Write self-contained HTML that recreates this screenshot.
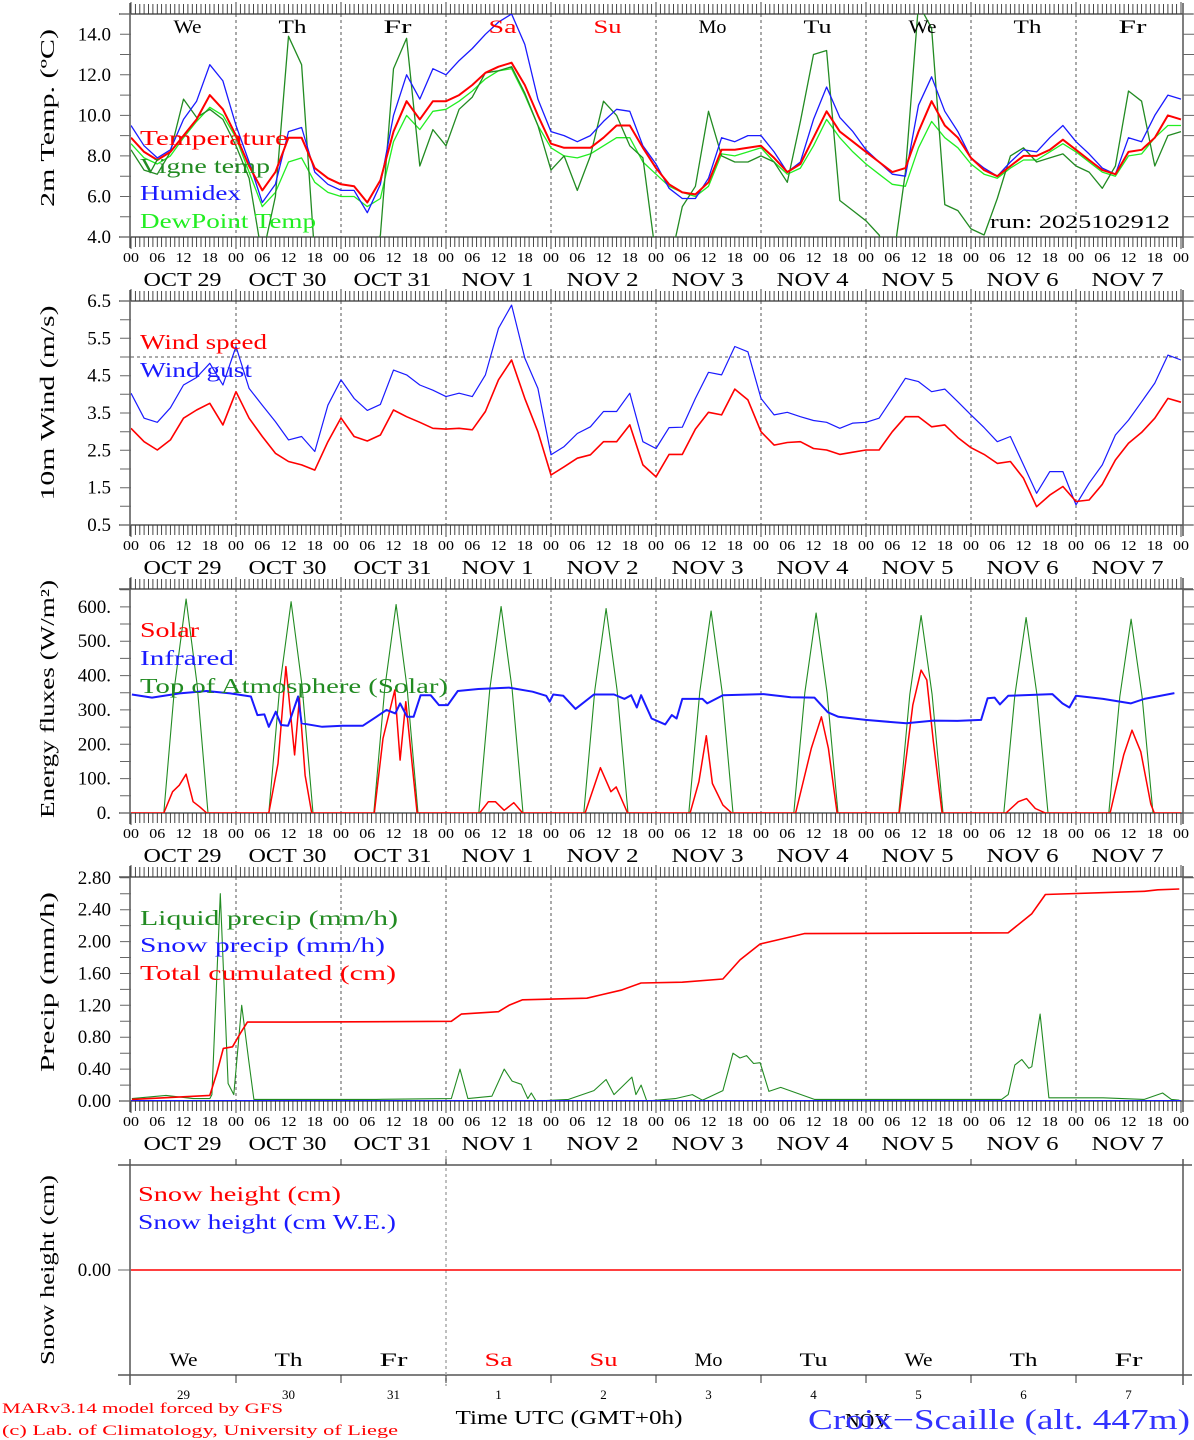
<!DOCTYPE html>
<html><head><meta charset="utf-8">
<style>
html,body{margin:0;padding:0;background:#fff;}
svg{display:block;font-family:"Liberation Serif","DejaVu Serif",serif;}
</style></head>
<body>
<svg id="chart" width="1194" height="1440" viewBox="0 0 1194 1440" xmlns="http://www.w3.org/2000/svg"></svg>
<script>
// ---------- DATA (3-hourly from Oct 29 00 UTC) ----------
const dayNames = ["We","Th","Fr","Sa","Su","Mo","Tu","We","Th","Fr"];
const dayColors = ["#000","#000","#000","#f00","#f00","#000","#000","#000","#000","#000"];
const dateLabels = ["OCT 29","OCT 30","OCT 31","NOV 1","NOV 2","NOV 3","NOV 4","NOV 5","NOV 6","NOV 7"];
const dayNumbers = ["29","30","31","1","2","3","4","5","6","7"];
const hourTickLabels = ["00","06","12","18"];

const tempVals = [8.9,8.2,7.8,8.2,9.0,9.8,11.0,10.3, 9.0,7.5,6.3,7.2,8.9,8.9,7.4,6.9, 6.6,6.5,5.7,6.8,9.2,10.7,9.8,10.7, 10.7,11.0,11.5,12.1,12.4,12.6,11.5,10.0, 8.6,8.4,8.4,8.4,8.9,9.5,9.5,8.4, 7.4,6.6,6.2,6.1,6.7,8.3,8.3,8.4, 8.5,7.9,7.2,7.6,8.9,10.2,9.2,8.7, 8.2,7.7,7.2,7.4,9.2,10.7,9.5,8.9, 7.9,7.3,7.0,7.5,8.0,8.0,8.3,8.8, 8.3,7.8,7.3,7.1,8.2,8.3,8.9,10.0,9.8];
const vigneVals = [8.3,7.3,7.1,8.2,10.8,9.9,10.3,9.8, 8.5,6.9,3.0,6.0,13.9,12.5,3.0,2.0, 2.0,2.0,2.0,4.1,12.3,13.8,7.5,9.3, 8.5,10.3,10.9,12.1,12.2,12.4,11.1,9.5, 7.3,8.0,6.3,8.0,10.7,10.0,8.5,7.9, 3.0,2.5,5.5,6.5,10.2,8.0,7.7,7.7, 8.0,7.7,6.7,9.7,13.0,13.2,5.8,5.3, 4.8,4.1,2.5,7.2,15.5,14.3,5.6,5.3, 4.4,4.1,5.9,8.0,8.4,7.7,7.9,8.1, 7.5,7.2,6.4,7.5,11.2,10.7,7.5,9.0,9.2];
const humidexVals = [9.5,8.5,7.9,8.3,9.8,10.7,12.5,11.7, 9.5,7.7,5.7,6.6,9.2,9.4,7.2,6.6, 6.3,6.3,5.2,6.6,10.0,12.0,10.8,12.3, 12.0,12.7,13.3,14.0,14.6,15.0,13.5,10.8, 9.2,9.0,8.7,9.0,9.7,10.3,10.2,8.5, 7.6,6.4,5.9,5.9,6.9,8.9,8.7,9.0, 9.0,8.2,7.2,7.7,9.8,11.4,9.9,9.2, 8.3,7.7,7.1,7.0,10.5,11.9,10.2,9.2, 7.9,7.4,7.0,7.7,8.3,8.2,8.9,9.5, 8.7,8.1,7.4,7.1,8.9,8.7,10.0,11.0,10.8];
const dewVals = [8.6,7.9,7.6,8.0,8.9,9.7,10.4,10.0, 8.9,7.2,5.5,6.2,7.7,7.9,6.7,6.2, 6.0,6.0,5.5,5.9,8.7,10.0,9.3,10.2, 10.3,10.7,11.2,11.8,12.2,12.3,11.0,9.5, 8.4,8.0,7.9,8.1,8.5,8.9,8.9,7.7, 7.1,6.5,6.2,6.0,6.5,8.1,8.0,8.2, 8.4,7.7,7.1,7.4,8.5,9.8,8.9,8.2, 7.6,7.1,6.6,6.5,8.4,9.7,8.9,8.4, 7.6,7.1,6.9,7.4,7.8,7.8,8.2,8.6, 8.2,7.7,7.2,7.0,8.0,8.1,8.9,9.5,9.5];

const windSpeedVals = [3.09,2.73,2.51,2.78,3.36,3.58,3.76,3.18, 4.07,3.36,2.87,2.42,2.20,2.11,1.97,2.73, 3.37,2.87,2.75,2.91,3.58,3.40,3.25,3.09, 3.07,3.09,3.05,3.54,4.39,4.92,3.89,3.00, 1.84,2.06,2.29,2.38,2.73,2.73,3.18,2.11, 1.79,2.39,2.39,3.07,3.52,3.45,4.14,3.85, 3.00,2.64,2.71,2.73,2.55,2.51,2.39,2.45, 2.51,2.51,3.00,3.40,3.40,3.13,3.18,2.84, 2.57,2.39,2.15,2.20,1.75,0.99,1.30,1.53, 1.13,1.17,1.59,2.24,2.69,2.98,3.36,3.89,3.79];
const windGustVals = [4.03,3.36,3.25,3.64,4.25,4.45,4.83,4.25, 5.28,4.16,3.71,3.27,2.78,2.87,2.47,3.71, 4.39,3.89,3.57,3.73,4.65,4.52,4.25,4.11, 3.94,4.03,3.94,4.52,5.77,6.39,4.97,4.16, 2.38,2.60,2.95,3.13,3.54,3.54,4.03,2.73, 2.55,3.11,3.12,3.89,4.59,4.52,5.28,5.14, 3.89,3.45,3.52,3.40,3.30,3.25,3.09,3.23, 3.25,3.36,3.89,4.43,4.34,4.07,4.14,3.80, 3.45,3.11,2.73,2.87,2.11,1.35,1.93,1.93, 1.04,1.62,2.11,2.91,3.31,3.80,4.30,5.05,4.92];

// energy fluxes: hours since Oct 29 00 and values (W/m2)
const toaPeaks = [623,615,607,601,595,588,582,575,569,564];
const solarHours = [0,7.5,9.5,11.05,12.6,14.2,15.7,17.3, 31.5,33.6,35.4,37.4,38.5,39.8,41.3, 55.6,57.6,60.3,61.5,62.8,65.4, 79.7,81.7,83.3,85.3,87.5,89.5, 103.8,107.3,109.7,110.9,113.5, 127.8,129.8,131.5,132.9,135.3,137.3, 151.9,155.5,157.8,159.4,161.4, 175.6,178.7,180.6,181.9,183.4,185.4, 200.0,202.8,204.7,206.7,209.0, 223.8,226.9,228.8,230.8,233.1,233.9,240];
const solarVals = [0,0,62,81,113,33,18,0, 0,144,426,169,334,110,0, 0,217,358,154,324,0, 0,33,33,8,30,0, 0,132,62,76,0, 0,91,225,86,23,0, 0,188,280,188,0, 0,314,416,387,207,0, 0,33,42,13,0, 0,169,241,178,26,0,0];
const irHours = [0.2,4.8,11.1,17.3,22.7,27.4,28.9,30.5,31.5,33.1,34.3,35.9,38.2,39.0,43.7,48.3,53.0,56.1,58.4,60.4,61.5,63.1,64.6,66.2,68.5,70.4,72.4,74.7,79.4,86.4,91.8,94.9,95.7,96.5,98.8,101.6,105.8,110.4,112.8,114.3,115.6,116.6,119.0,122.1,123.6,124.7,126.0,130.6,131.7,135.3,144.6,150.8,156.2,159.3,161.7,167.9,177.2,183.4,188.9,194.3,195.8,197.4,198.6,200.5,210.6,212.9,214.5,216.0,222.2,228.5,231.6,238.5];
const irVals = [345,336,348,355,348,339,285,287,251,295,256,254,339,261,251,254,254,280,300,290,319,280,280,343,343,314,314,355,361,365,353,341,324,345,341,303,345,345,332,343,307,343,275,258,285,275,332,332,319,343,346,337,336,293,280,271,261,269,268,271,334,336,316,341,346,319,307,341,332,319,332,349];

// precipitation
const cumHours = [0.2,18.0,19.6,21.1,23.2,25.0,26.6,37.4,73.2,75.5,84.0,86.4,89.5,104.2,107.3,112.0,116.6,126.0,135.3,139.2,143.8,147.7,153.9,200.5,205.9,209.0,231.6,234.7,239.6];
const cumVals = [0.02,0.07,0.35,0.66,0.68,0.85,0.99,0.99,1.00,1.09,1.12,1.20,1.27,1.29,1.33,1.39,1.48,1.49,1.53,1.77,1.97,2.02,2.10,2.11,2.35,2.59,2.63,2.65,2.66];
const liqHours = [0.2,8.0,14.2,18.0,18.5,20.4,22.2,23.5,25.3,26.9,28.1,56.1,73.2,75.2,77.0,82.5,85.3,87.1,89.2,90.7,91.5,92.6,100,105.8,108.6,110.4,114.5,115.4,116.6,117.9,124.4,128.3,130.6,135.3,137.6,139.2,140.7,142.3,143.8,145.8,148.5,156.2,199.0,200.5,202.0,203.6,205.2,205.9,207.8,209.8,222.2,231.6,235.8,237.8,239.6];
const liqVals = [0.03,0.07,0.03,0.03,0.08,2.60,0.22,0.08,1.20,0.51,0.02,0.02,0.03,0.40,0.03,0.06,0.40,0.25,0.21,0.03,0.10,0.0,0.02,0.13,0.27,0.08,0.30,0.08,0.20,0.0,0.03,0.08,0.01,0.13,0.60,0.54,0.57,0.47,0.48,0.12,0.17,0.02,0.02,0.08,0.45,0.52,0.41,0.43,1.09,0.04,0.04,0.02,0.10,0.02,0.01];
const snowPrecipVals = [0,0];
const snowHeightVals = [0,0];

const p1Ticks = ["14.0","12.0","10.0","8.0","6.0","4.0"];
const p2Ticks = ["6.5","5.5","4.5","3.5","2.5","1.5","0.5"];
const p3Ticks = ["600.","500.","400.","300.","200.","100.","0."];
const p4Ticks = ["2.80","2.40","2.00","1.60","1.20","0.80","0.40","0.00"];

// ---------- DRAWING ----------
const svg = document.getElementById('chart');
const NS = 'http://www.w3.org/2000/svg';
const X0 = 131, X1 = 1181, HOURS = 240;
function xs(h){ return X0 + h*(X1-X0)/HOURS; }
function mk(tag, attrs, parent){
  const e = document.createElementNS(NS, tag);
  for (const k in attrs) e.setAttribute(k, attrs[k]);
  (parent||svg).appendChild(e);
  return e;
}
function txt(str, x, y, size, color, anchor, len, parent){
  const t = mk('text', {x:x, y:y, 'font-size':size, fill:color, 'text-anchor':anchor||'start'}, parent);
  if (len){ t.setAttribute('textLength', len); t.setAttribute('lengthAdjust','spacingAndGlyphs'); }
  t.textContent = str;
  return t;
}

const panels = [
  {name:'temperature', top:14, bot:237, vmin:4, vmax:15, ref:[14,34], tickVals:[14,12,10,8,6,4], labels:p1Ticks, minor:1, title:'2m Temp. (ºC)', tlen:178, tc:118},
  {name:'wind', top:301, bot:525, vmin:0.5, vmax:6.5, ref:[6.5,301], tickVals:[6.5,5.5,4.5,3.5,2.5,1.5,0.5], labels:p2Ticks, minor:0.5, title:'10m Wind (m/s)', tlen:195, tc:403},
  {name:'energy', top:589, bot:813, vmin:0, vmax:652, ref:[600,607], tickVals:[600,500,400,300,200,100,0], labels:p3Ticks, minor:50, title:'Energy fluxes (W/m²)', tlen:238, tc:699},
  {name:'precip', top:877, bot:1101, vmin:0, vmax:2.81, ref:[2.8,878], tickVals:[2.8,2.4,2.0,1.6,1.2,0.8,0.4,0.0], labels:p4Ticks, minor:0.2, title:'Precip (mm/h)', tlen:180, tc:982}
];
panels.forEach(p => { p.ys = v => p.bot - (v - p.vmin)*(p.bot-p.top)/(p.vmax-p.vmin); });

panels.forEach((p, pi) => {
  const g = mk('g', {});
  
  
  // day dashed separators
  for (let d=1; d<10; d++){
    const l = mk('line', {x1:xs(d*24), x2:xs(d*24), y1:p.top, y2:p.bot, stroke:'#555', 'stroke-width':1, 'stroke-dasharray':'3,3'}, g);
    
    
  }
  // frame
  mk('line', {x1:119, x2:1193, y1:p.top, y2:p.top, stroke:'#333', 'stroke-width':1.3}, g);
  mk('line', {x1:119, x2:1193, y1:p.bot, y2:p.bot, stroke:'#333', 'stroke-width':1.3}, g);
  mk('line', {x1:X0-1, x2:X0-1, y1:p.top-11, y2:p.bot+11, stroke:'#555', 'stroke-width':1.5}, g);
  mk('line', {x1:X1+2, x2:X1+2, y1:p.top-11, y2:p.bot+11, stroke:'#555', 'stroke-width':1.5}, g);
  // hourly ticks
  let tp = '';
  for (let h=0; h<=HOURS; h++){
    const x = xs(h).toFixed(1);
    const L = (h%24===0) ? 12 : 10;
    tp += `M${x},${p.top}v${-L}M${x},${p.bot}v${L}`;
  }
  mk('path', {d:tp, stroke:'#333', 'stroke-width':0.9, fill:'none'}, g);
  // y ticks
  let yp = '';
  for (let v=p.vmin; v<=p.vmax+1e-6; v+=p.minor){
    const y = p.ys(v);
    if (y < p.top-0.5) continue;
    yp += `M${X0-11},${y.toFixed(1)}h11M${X1+2},${y.toFixed(1)}h11`;
  }
  mk('path', {d:yp, stroke:'#666', 'stroke-width':1, fill:'none'}, g);
  p.tickVals.forEach((v, i) => {
    const t = txt(p.labels[i], 111, p.ys(v)+6, 19, '#000', 'end', null, g);
    
    
  });
  // y title
  const tt = mk('text', {x:0, y:0, 'font-size':20, fill:'#000', 'text-anchor':'middle', transform:`translate(54,${p.tc}) rotate(-90)`, textLength:p.tlen, lengthAdjust:'spacingAndGlyphs'}, g);
  tt.textContent = p.title;
  
  
  // x tick labels & dates
  for (let d=0; d<10; d++){
    for (let k=0; k<4; k++){
      const t = txt(hourTickLabels[k], xs(d*24+k*6), p.bot+25, 14, '#000', 'middle', 16, g);
      
      
    }
    const dt = txt(dateLabels[d], xs(d*24+12)-1, p.bot+49, 20, '#000', 'middle', dateLabels[d].length>5 ? 78 : 72, g);
    
    
  }
  const lt = txt('00', xs(240), p.bot+25, 14, '#000', 'middle', 16, g);
  
  
  // clip
  const cp = mk('clipPath', {id:'clip'+pi});
  mk('rect', {x:X0, y:p.top, width:X1-X0+1, height:p.bot-p.top}, cp);
  p.g = mk('g', {'clip-path':`url(#clip${pi})`}, g);
});

function line3h(p, vals, color, w, name){
  let d = '';
  vals.forEach((v,i) => { d += (i?'L':'M') + xs(i*3).toFixed(1) + ',' + p.ys(v).toFixed(1); });
  const e = mk('path', {d:d, stroke:color, 'stroke-width':w, fill:'none', 'stroke-linejoin':'round'}, p.g);
  
  
}
function lineXY(p, hrs, vals, color, w, name){
  let d = '';
  vals.forEach((v,i) => { d += (i?'L':'M') + xs(hrs[i]).toFixed(1) + ',' + p.ys(v).toFixed(1); });
  const e = mk('path', {d:d, stroke:color, 'stroke-width':w, fill:'none', 'stroke-linejoin':'round'}, p.g);
  
  
}

// Panel 1
const P1 = panels[0];
line3h(P1, dewVals, '#22ee22', 1.3, 'dewpoint-line');
line3h(P1, vigneVals, '#228b22', 1.3, 'vigne-temp-line');
line3h(P1, humidexVals, '#1a1aff', 1.3, 'humidex-line');
line3h(P1, tempVals, '#ff0000', 2, 'temperature-line');
[['Temperature','#ff0000',145,148],['Vigne temp','#228b22',173,130],['Humidex','#1a1aff',200,101],['DewPoint Temp','#22ee22',228,176]].forEach(a=>{
  const t = txt(a[0], 140, a[2], 21, a[1], 'start', a[3]);
  
  
});
const run = txt('run: 2025102912', 990, 228, 19, '#000', 'start', 180);


for (let d=0; d<10; d++){
  const t = txt(dayNames[d], xs(d*24+12)+4, 33, 19, dayColors[d], 'middle', 28);
  
  
}

// Panel 2
const P2 = panels[1];
mk('line', {x1:X0, x2:X1, y1:P2.ys(5), y2:P2.ys(5), stroke:'#555', 'stroke-width':1, 'stroke-dasharray':'3,3'}, P2.g);
line3h(P2, windGustVals, '#1a1aff', 1.2, 'wind-gust-line');
line3h(P2, windSpeedVals, '#ff0000', 1.6, 'wind-speed-line');
[['Wind speed','#ff0000',349,127],['Wind gust','#1a1aff',377,112]].forEach(a=>{
  const t = txt(a[0], 140, a[2], 21, a[1], 'start', a[3]);
  
  
});

// Panel 3
const P3 = panels[2];
const toaHours = [], toaVals = [];
toaPeaks.forEach((pk, d) => {
  const base = d*24;
  toaHours.push(base+7.5, base+10, base+12.6, base+15.1, base+17.6);
  toaVals.push(0, pk*0.6, pk, pk*0.6, 0);
});
lineXY(P3, [0].concat(toaHours, [240]), [0].concat(toaVals, [0]), '#228b22', 1.1, 'toa-solar-line');
lineXY(P3, solarHours, solarVals, '#ff0000', 1.5, 'solar-line');
lineXY(P3, irHours, irVals, '#1a1aff', 2, 'infrared-line');
[['Solar','#ff0000',637,59],['Infrared','#1a1aff',665,94],['Top of Atmosphere (Solar)','#228b22',693,308]].forEach(a=>{
  const t = txt(a[0], 140, a[2], 21, a[1], 'start', a[3]);
  
  
});

// Panel 4
const P4 = panels[3];
lineXY(P4, liqHours, liqVals, '#228b22', 1.1, 'liquid-precip-line');
lineXY(P4, [0,240], snowPrecipVals, '#1a1aff', 2, 'snow-precip-line');
lineXY(P4, cumHours, cumVals, '#ff0000', 1.6, 'total-cumulated-line');
[['Liquid precip (mm/h)','#228b22',925,258],['Snow precip (mm/h)','#1a1aff',952,245],['Total cumulated (cm)','#ff0000',980,256]].forEach(a=>{
  const t = txt(a[0], 140, a[2], 21, a[1], 'start', a[3]);
  
  
});

// Panel 5 (snow height)
const g5 = mk('g', {});


const T5 = 1165, B5 = 1375, Y0 = 1270;
mk('line', {x1:X0+15-15, x2:X0, y1:T5, y2:T5}, g5);
mk('line', {x1:118, x2:1192, y1:T5, y2:T5, stroke:'#333', 'stroke-width':1.3}, g5);
mk('line', {x1:118, x2:1192, y1:B5, y2:B5, stroke:'#333', 'stroke-width':1.3}, g5);
mk('line', {x1:X0-1, x2:X0-1, y1:T5-6, y2:B5+10, stroke:'#555', 'stroke-width':1.5}, g5);
mk('line', {x1:X1+2, x2:X1+2, y1:T5-6, y2:B5+10, stroke:'#555', 'stroke-width':1.5}, g5);
mk('line', {x1:xs(72), x2:xs(72), y1:1150, y2:1386, stroke:'#aaa', 'stroke-width':1.5, 'stroke-dasharray':'3,3'}, g5);
let t5 = '';
for (let d=1; d<10; d++){ const x = xs(d*24).toFixed(1); t5 += `M${x},${T5}v-6M${x},${B5}v8`; }
mk('path', {d:t5, stroke:'#333', 'stroke-width':1, fill:'none'}, g5);
mk('line', {x1:118, x2:X0, y1:Y0, y2:Y0, stroke:'#666', 'stroke-width':1}, g5);
const sy = v => Y0 - v*100;
const sh = mk('path', {d:`M${xs(0)},${sy(snowHeightVals[0])}L${xs(240)},${sy(snowHeightVals[1])}`, stroke:'#ff0000', 'stroke-width':1.5, fill:'none'}, g5);


const z = txt('0.00', 111, Y0+6, 19, '#000', 'end', null, g5);


const st = mk('text', {x:0, y:0, 'font-size':20, fill:'#000', 'text-anchor':'middle', transform:'translate(54,1270) rotate(-90)', textLength:190, lengthAdjust:'spacingAndGlyphs'}, g5);
st.textContent = 'Snow height (cm)';


[['Snow height (cm)','#ff0000',1201,203],['Snow height (cm W.E.)','#1a1aff',1229,258]].forEach(a=>{
  const t = txt(a[0], 138, a[2], 21, a[1], 'start', a[3], g5);
  
  
});
for (let d=0; d<10; d++){
  const t = txt(dayNames[d], xs(d*24+12), 1366, 19, dayColors[d], 'middle', 28, g5);
  
  
  const n = txt(dayNumbers[d], xs(d*24+12), 1399, 13, '#000', 'middle', null, g5);
  
  
}
const nov = txt('NOV', 867, 1427, 20, '#000', 'middle', 44);


const xt = txt('Time UTC (GMT+0h)', 569, 1424, 20, '#000', 'middle', 227);


const loc = txt('Croix−Scaille (alt. 447m)', 1190, 1429, 28, '#3333ff', 'end', 382);


const f1 = txt('MARv3.14 model forced by GFS', 2, 1413, 15, '#ff0000', 'start', 281);


const f2 = txt('(c) Lab. of Climatology, University of Liege', 2, 1435, 15, '#ff0000', 'start', 396);


</script>
</body></html>
